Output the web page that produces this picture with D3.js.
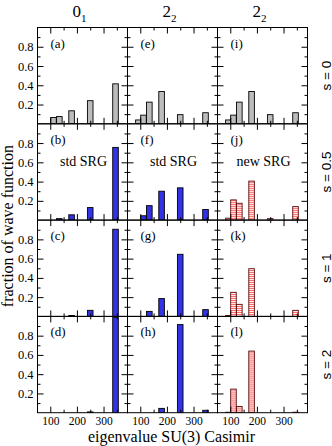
<!DOCTYPE html>
<html>
<head>
<meta charset="utf-8">
<script src="https://cdn.jsdelivr.net/npm/d3@7"></script>
<style>
  body { margin: 0; background: #fff; }
  svg { display: block; font-family: "Liberation Serif", "Times New Roman", serif; }
</style>
</head>
<body>
<div id="chart"></div>
<script>
// SU(3) Casimir eigenvalues (x positions of the bars)
const casimir = [93, 112, 134, 180, 250, 345];

// fraction of wave function, one array per panel
const panelA = [0, 0.065, 0.075, 0.135, 0.24, 0.415];
const panelB = [0, 0, 0.015, 0.055, 0.13, 0.755];
const panelC = [0, 0, 0, 0.01, 0.063, 0.905];
const panelD = [0, 0, 0, 0, 0.008, 0.99];
const panelE = [0.04, 0.09, 0.225, 0.335, 0.095, 0.115];
const panelF = [0, 0.045, 0.15, 0.30, 0.335, 0.11];
const panelG = [0, 0, 0.052, 0.185, 0.645, 0.07];
const panelH = [0, 0, 0, 0.045, 0.915, 0.025];
const panelI = [0.04, 0.09, 0.225, 0.335, 0.095, 0.115];
const panelJ = [0.02, 0.21, 0.175, 0.405, 0.015, 0.14];
const panelK = [0.01, 0.25, 0.125, 0.495, 0, 0.063];
const panelL = [0.005, 0.245, 0.065, 0.64, 0, 0.005];

// columns hold panels top to bottom
const columns = [
  [panelA, panelB, panelC, panelD],
  [panelE, panelF, panelG, panelH],
  [panelI, panelJ, panelK, panelL]
];
const panelLetters = [["a", "b", "c", "d"], ["e", "f", "g", "h"], ["i", "j", "k", "l"]];
const stateNames = ["0", "2", "2"];
const stateSubs = ["1", "2", "2"];
const flowLabels = ["s = 0", "s = 0.5", "s = 1", "s = 2"];
const methodLabels = ["std SRG", "std SRG", "new SRG"];

const yMajor = [0.2, 0.4, 0.6, 0.8];
const yMinor = [0.1, 0.3, 0.5, 0.7, 0.9];
const xMajor = [100, 200, 300];
const xMinor = [150, 250, 350];

// layout
const W = 332, H = 446;
const marginLeft = 37.5, marginTop = 27.5, colW = 90, rowH = 96.3;
const barUnits = 21;

const svg = d3.select("#chart").append("svg")
  .attr("width", W)
  .attr("height", H);

const defs = svg.append("defs");

// grey stipple for s = 0
const pGrey = defs.append("pattern").attr("id", "pGrey")
  .attr("patternUnits", "userSpaceOnUse").attr("width", 2).attr("height", 2);
pGrey.append("rect").attr("width", 2).attr("height", 2).attr("fill", "#dcdcdc");
pGrey.append("rect").attr("width", 1).attr("height", 1).attr("fill", "#909090");
pGrey.append("rect").attr("x", 1).attr("y", 1).attr("width", 1).attr("height", 1).attr("fill", "#a8a8a8");

// blue stipple for std SRG
const pBlue = defs.append("pattern").attr("id", "pBlue")
  .attr("patternUnits", "userSpaceOnUse").attr("width", 2).attr("height", 2);
pBlue.append("rect").attr("width", 2).attr("height", 2).attr("fill", "#4646ff");
pBlue.append("rect").attr("width", 1).attr("height", 1).attr("fill", "#1e1ecc");
pBlue.append("rect").attr("x", 1).attr("y", 1).attr("width", 1).attr("height", 1).attr("fill", "#1e1ecc");

// red horizontal stripes for new SRG
const pRed = defs.append("pattern").attr("id", "pRed")
  .attr("patternUnits", "userSpaceOnUse").attr("width", 2).attr("height", 2);
pRed.append("rect").attr("width", 2).attr("height", 2).attr("fill", "#fff");
pRed.append("rect").attr("width", 2).attr("height", 1).attr("fill", "#ff5c5c");

const x = d3.scaleLinear().domain([52, 390]).range([0, colW]);
const y = d3.scaleLinear().domain([0, 1]).range([rowH, 0]);
const bw = x(barUnits) - x(0);

function styleAxis(g) {
  g.select(".domain").remove();
  g.attr("font-family", null);
  g.selectAll("line").attr("stroke", "#000");
}

columns.forEach((col, c) => {
  col.forEach((values, r) => {
    const g = svg.append("g")
      .attr("transform", `translate(${marginLeft + c * colW},${marginTop + r * rowH})`);

    const clipId = `clip-${c}-${r}`;
    g.append("clipPath").attr("id", clipId)
      .append("rect").attr("width", colW).attr("height", rowH);

    let fill = "url(#pBlue)", stroke = "#000";
    if (r === 0) fill = "url(#pGrey)";
    else if (c === 2) { fill = "url(#pRed)"; stroke = "#5a1010"; }

    // bars
    g.append("g").attr("clip-path", `url(#${clipId})`)
      .selectAll("rect")
      .data(values.map((v, i) => ({ x: casimir[i], v })).filter(d => d.v > 0))
      .join("rect")
      .attr("x", d => x(d.x) - bw / 2)
      .attr("y", d => y(d.v))
      .attr("width", bw)
      .attr("height", d => y(0) - y(d.v))
      .attr("fill", fill)
      .attr("stroke", stroke)
      .attr("stroke-width", 0.9);

    // inward ticks on all four sides
    g.append("g")
      .call(d3.axisLeft(y).tickValues(yMajor).tickSize(-6).tickPadding(4)
        .tickFormat(c === 0 ? d3.format(".1f") : () => ""))
      .call(styleAxis)
      .attr("font-size", 12.5);
    g.append("g")
      .call(d3.axisLeft(y).tickValues(yMinor).tickSize(-3).tickFormat(() => ""))
      .call(styleAxis);
    g.append("g").attr("transform", `translate(${colW},0)`)
      .call(d3.axisRight(y).tickValues(yMajor).tickSize(-6).tickFormat(() => ""))
      .call(styleAxis);
    g.append("g").attr("transform", `translate(${colW},0)`)
      .call(d3.axisRight(y).tickValues(yMinor).tickSize(-3).tickFormat(() => ""))
      .call(styleAxis);
    g.append("g").attr("transform", `translate(0,${rowH})`)
      .call(d3.axisBottom(x).tickValues(xMajor).tickSize(-6).tickPadding(4)
        .tickFormat(r === 3 ? d3.format("d") : () => ""))
      .call(styleAxis)
      .attr("font-size", 11.5);
    g.append("g").attr("transform", `translate(0,${rowH})`)
      .call(d3.axisBottom(x).tickValues(xMinor).tickSize(-3).tickFormat(() => ""))
      .call(styleAxis);
    g.append("g")
      .call(d3.axisTop(x).tickValues(xMajor).tickSize(-6).tickFormat(() => ""))
      .call(styleAxis);
    g.append("g")
      .call(d3.axisTop(x).tickValues(xMinor).tickSize(-3).tickFormat(() => ""))
      .call(styleAxis);

    // frame
    g.append("rect")
      .attr("width", colW).attr("height", rowH)
      .attr("fill", "none").attr("stroke", "#000").attr("stroke-width", 1);

    // panel letter
    g.append("text")
      .attr("x", 13).attr("y", 20)
      .attr("font-size", 13)
      .text(`(${panelLetters[c][r]})`);

    if (r === 1) {
      g.append("text")
        .attr("x", colW / 2 + 1).attr("y", 42)
        .attr("text-anchor", "middle")
        .attr("font-size", 14)
        .text(methodLabels[c]);
    }
  });
});

// column titles
stateNames.forEach((name, c) => {
  const t = svg.append("text")
    .attr("x", marginLeft + c * colW + colW / 2 - 3)
    .attr("y", 17)
    .attr("text-anchor", "middle")
    .attr("font-size", 17)
    .text(name);
  t.append("tspan")
    .attr("font-size", 11)
    .attr("dy", 5)
    .text(stateSubs[c]);
});

// flow parameter labels on the right
flowLabels.forEach((lab, r) => {
  svg.append("text")
    .attr("transform", `translate(330.5,${marginTop + r * rowH + rowH / 2}) rotate(-90)`)
    .attr("text-anchor", "middle")
    .attr("font-family", "'Liberation Sans', Arial, sans-serif")
    .attr("font-size", 13.5)
    .text(lab);
});

// axis titles
svg.append("text")
  .attr("transform", `translate(13,${marginTop + 2 * rowH + 6}) rotate(-90)`)
  .attr("text-anchor", "middle")
  .attr("font-size", 16)
  .text("fraction of wave function");

svg.append("text")
  .attr("x", marginLeft + 1.5 * colW - 1)
  .attr("y", 442)
  .attr("text-anchor", "middle")
  .attr("font-size", 16)
  .text("eigenvalue SU(3) Casimir");
</script>
</body>
</html>
